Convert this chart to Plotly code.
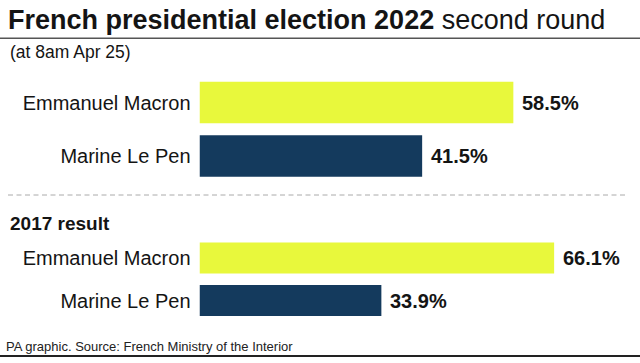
import plotly.graph_objects as go

W, H = 640, 363

# ---- data ----
candidates = ["Emmanuel Macron", "Marine Le Pen"]
values_2022 = [58.5, 41.5]
values_2017 = [66.1, 33.9]
bar_colors = ["#E8F83C", "#143A5D"]

title_bold = "French presidential election 2022"
title_rest = "second round"
subtitle = "(at 8am Apr 25)"
section_2017 = "2017 result"
footer = "PA graphic. Source: French Ministry of the Interior"

FONT = "Liberation Sans, Arial, sans-serif"
TXT = "#141414"


def px(x):
    return x / W


def py(y):
    return 1 - y / H


x_start = 199.5
px_per_unit = 5.365
x_max = (W - x_start) / px_per_unit

fig = go.Figure()

fig.add_trace(go.Bar(
    y=candidates, x=values_2022, orientation="h",
    marker=dict(color=bar_colors, line=dict(width=0)),
    width=0.78, xaxis="x", yaxis="y", hoverinfo="skip",
))
fig.add_trace(go.Bar(
    y=candidates, x=values_2017, orientation="h",
    marker=dict(color=bar_colors, line=dict(width=0)),
    width=0.73, xaxis="x2", yaxis="y2", hoverinfo="skip",
))

annotations = []
for axes, vals in (("", values_2022), ("2", values_2017)):
    for c, v in zip(candidates, vals):
        annotations.append(dict(
            x=v, y=c, xref="x" + axes, yref="y" + axes,
            text=f"<b>{v:.1f}%</b>", showarrow=False,
            xanchor="left", yanchor="middle", xshift=7,
            font=dict(family=FONT, size=20, color=TXT),
        ))

annotations += [
    dict(x=px(6), y=py(20), xref="paper", yref="paper",
         text=f"<b>{title_bold}</b> {title_rest}", showarrow=False,
         xanchor="left", yanchor="middle",
         font=dict(family=FONT, size=27, color=TXT)),
    dict(x=px(8), y=py(52), xref="paper", yref="paper",
         text=subtitle, showarrow=False, xanchor="left", yanchor="middle",
         font=dict(family=FONT, size=17.5, color=TXT)),
    dict(x=px(8), y=py(223), xref="paper", yref="paper",
         text=f"<b>{section_2017}</b>", showarrow=False,
         xanchor="left", yanchor="middle",
         font=dict(family=FONT, size=19, color=TXT)),
    dict(x=px(4), y=py(346), xref="paper", yref="paper",
         text=footer, showarrow=False, xanchor="left", yanchor="middle",
         font=dict(family=FONT, size=13, color="#222")),
]

shapes = [
    dict(type="line", xref="paper", yref="paper", x0=0, x1=1,
         y0=py(38.3), y1=py(38.3), line=dict(color="#555", width=1.5)),
    dict(type="line", xref="paper", yref="paper", x0=px(8), x1=px(628),
         y0=py(195), y1=py(195), line=dict(color="#aaaaaa", width=1, dash="5px,3.5px")),
    dict(type="line", xref="paper", yref="paper", x0=0, x1=1,
         y0=py(356), y1=py(356), line=dict(color="#222", width=2)),
]

xaxis_common = dict(domain=[px(x_start), 1], range=[0, x_max], visible=False,
                    showgrid=False, zeroline=False, fixedrange=True)
yaxis_common = dict(type="category", categoryorder="array", categoryarray=candidates,
                    range=[1.5, -0.5], showgrid=False, zeroline=False, showline=False,
                    ticks="", ticklabelstandoff=8,
                    tickfont=dict(family=FONT, size=20, color=TXT), fixedrange=True)

fig.update_layout(
    width=W, height=H,
    margin=dict(l=0, r=0, t=0, b=0),
    paper_bgcolor="white", plot_bgcolor="white",
    showlegend=False, barmode="overlay",
    xaxis=dict(**xaxis_common, anchor="y"),
    xaxis2=dict(**xaxis_common, anchor="y2"),
    yaxis=dict(**yaxis_common, domain=[py(182.75), py(75.75)], anchor="x"),
    yaxis2=dict(**yaxis_common, domain=[py(321.75), py(236.75)], anchor="x2"),
    annotations=annotations,
    shapes=shapes,
)

fig.write_html(
    "out.html",
    config={"displayModeBar": False},
    post_script="document.body.style.margin='0';document.body.style.overflow='hidden';",
)
